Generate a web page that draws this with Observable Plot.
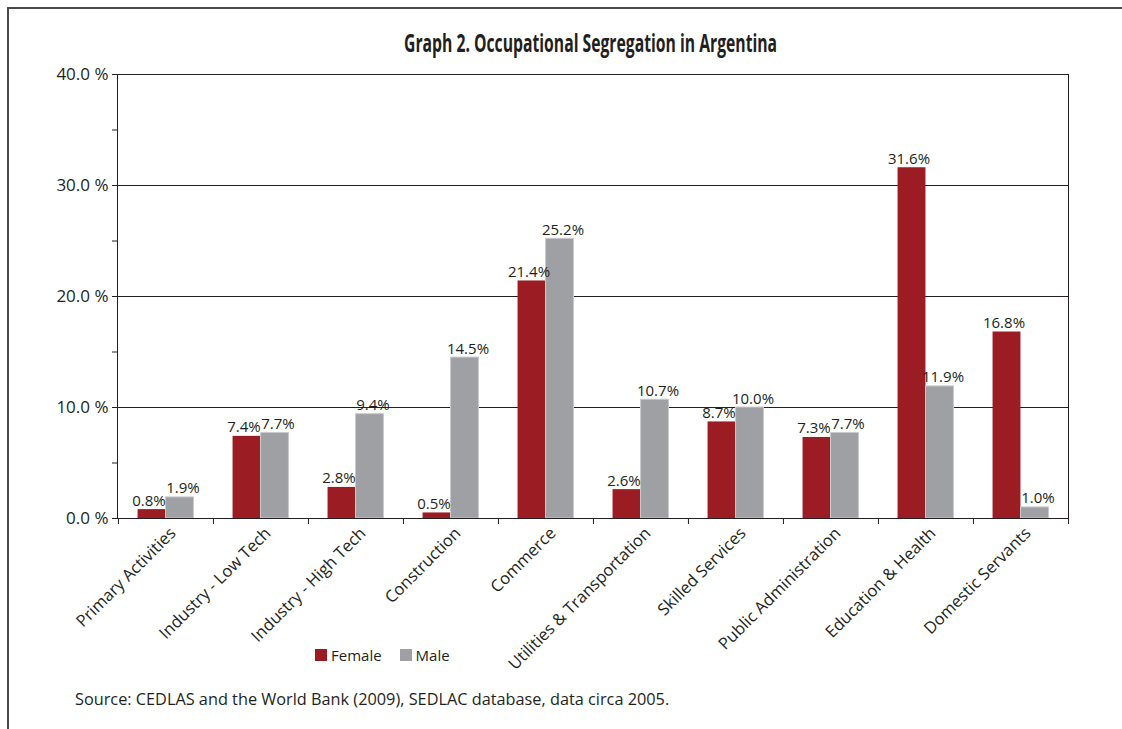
<!DOCTYPE html>
<html><head><meta charset="utf-8">
<script src="https://cdn.jsdelivr.net/npm/d3@7"></script>
<script src="https://cdn.jsdelivr.net/npm/@observablehq/plot@0.6"></script>
<style>
html,body{margin:0;padding:0;background:#fff;}
#wrap{position:relative;width:1122px;height:729px;overflow:hidden;font-family:"Open Sans",sans-serif;color:#231f20;}
#border{position:absolute;left:7px;top:7px;width:1200px;height:800px;border:2px solid #4a4a4a;}
#titlebox{position:absolute;left:0;width:1182px;top:25px;text-align:center;}
#title{display:inline-block;font-weight:bold;font-size:25px;line-height:34px;font-family:"Open Sans",sans-serif;transform-origin:center center;white-space:nowrap;}
#chart{position:absolute;left:0;top:60px;}
#legend{position:absolute;top:645px;left:315px;font-size:15px;display:flex;align-items:center;}
#legend .sw{display:inline-block;width:12px;height:12px;margin-right:4px;}
#legend .it{display:flex;align-items:center;margin-right:18px;}
#source{position:absolute;left:75px;top:688px;font-size:16.3px;white-space:nowrap;}
</style></head>
<body>
<div id="wrap">
<div id="border"></div>
<div id="titlebox"><span id="title">Graph 2. Occupational Segregation in Argentina</span></div>
<div id="chart"></div>
<div id="legend"></div>
<div id="source">Source: CEDLAS and the World Bank (2009), SEDLAC database, data circa 2005.</div>
</div>
<script>
const categories = ["Primary Activities","Industry - Low Tech","Industry - High Tech","Construction","Commerce","Utilities & Transportation","Skilled Services","Public Administration","Education & Health","Domestic Servants"];
const female = [0.8, 7.4, 2.8, 0.5, 21.4, 2.6, 8.7, 7.3, 31.6, 16.8];
const male = [1.9, 7.7, 9.4, 14.5, 25.2, 10.7, 10.0, 7.7, 11.9, 1.0];
const series = ["Female","Male"];
const colors = ["#9b1c22","#9ea0a3"];
const yLabelTicks = [0,10,20,30,40];
const yMinorTicks = [0,5,10,15,20,25,30,35,40];
const gridValues = [10,20,30];

const fRows = categories.map((c,i)=>({cat:c, sex:"Female", value:female[i]}));
const mRows = categories.map((c,i)=>({cat:c, sex:"Male", value:male[i]}));

const W = 1122, ML = 117, MR = 54;
const step = (W - ML - MR) / categories.length;
const bw = 28;
const outer = (step - 2*bw) / 2;
const ink = "#231f20";

const chart = Plot.plot({
  width: W, height: 650,
  marginLeft: ML, marginRight: MR, marginTop: 14, marginBottom: 192,
  style: {fontFamily: "'Open Sans', sans-serif", fontSize: "15px", color: ink, background: "transparent"},
  x: {type: "band", domain: categories, padding: 0, label: null},
  y: {domain: [0, 40], label: null},
  marks: [
    Plot.ruleY(gridValues, {stroke: ink, strokeWidth: 1, strokeOpacity: 1}),
    Plot.barY(fRows, {x: "cat", y: "value", fill: colors[0], insetLeft: outer, insetRight: outer + bw}),
    Plot.barY(mRows, {x: "cat", y: "value", fill: colors[1], stroke: "#c9cacc", strokeWidth: 1, insetLeft: outer + bw, insetRight: outer}),
    Plot.text(fRows, {x: "cat", y: "value", text: d => d.value.toFixed(1) + "%", dx: -bw/2 - 3, dy: -4, lineAnchor: "bottom", fontSize: 15, fill: ink}),
    Plot.text(mRows, {x: "cat", y: "value", text: d => d.value.toFixed(1) + "%", dx: bw/2 + 3, dy: -4, lineAnchor: "bottom", fontSize: 15, fill: ink}),
    Plot.ruleX(categories, {x: d => d, y1: 0, y2: 0, insetBottom: -6, dx: -step/2, stroke: ink}),
    Plot.ruleX([categories[categories.length-1]], {x: d => d, y1: 0, y2: 0, insetBottom: -6, dx: step/2, stroke: ink}),
    Plot.frame({stroke: ink, strokeWidth: 1}),
    Plot.axisY({ticks: yMinorTicks, tickFormat: d => yLabelTicks.includes(d) ? d.toFixed(1) + " %" : "", tickSize: 5, tickPadding: 4, fontSize: 17, stroke: ink, fill: ink, label: null}),
    Plot.axisX({tickRotate: -45, tickSize: 0, tickPadding: 8, dx: 7, dy: 4, fontSize: 16.5, fill: ink, label: null})
  ]
});
document.getElementById("chart").appendChild(chart);

const lg = document.getElementById("legend");
series.forEach((s,i)=>{
  const it = document.createElement("span"); it.className="it";
  const sw = document.createElement("span"); sw.className="sw"; sw.style.background = colors[i];
  it.appendChild(sw); it.appendChild(document.createTextNode(s)); lg.appendChild(it);
});

const t = document.getElementById("title");
const tw = t.getBoundingClientRect().width;
t.style.transform = `scaleX(${373 / tw})`;
</script>
</body></html>
